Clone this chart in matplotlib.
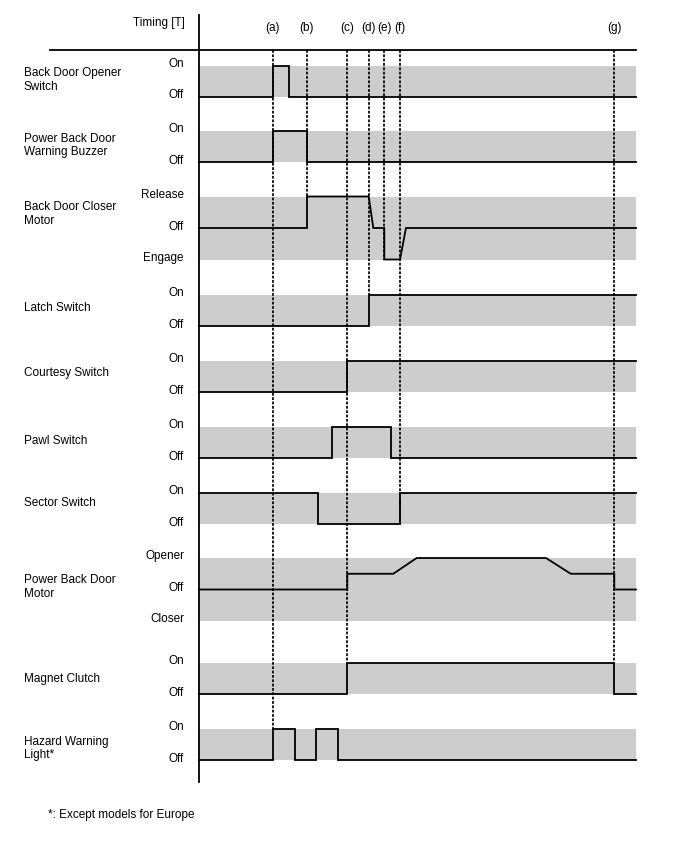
import matplotlib
matplotlib.use("Agg")
import matplotlib.pyplot as plt

plt.rcParams['font.family'] = ['Liberation Sans', 'DejaVu Sans']

# ---------------- data ----------------
event_labels = ['(a)', '(b)', '(c)', '(d)', '(e)', '(f)', '(g)']
event_t = [73.7, 108.0, 148.3, 169.7, 185.3, 201.0, 415.3]
t_end = 437.0

signal_names = [
    'Back Door Opener\nSwitch',
    'Power Back Door\nWarning Buzzer',
    'Back Door Closer\nMotor',
    'Latch Switch',
    'Courtesy Switch',
    'Pawl Switch',
    'Sector Switch',
    'Power Back Door\nMotor',
    'Magnet Clutch',
    'Hazard Warning\nLight*',
]
two_levels = ['Off', 'On']
closer_levels = ['Engage', 'Off', 'Release']
motor_levels = ['Closer', 'Off', 'Opener']

opener_t = [0, 73.7, 73.7, 89.7, 89.7, 437]
opener_v = [0, 0, 1, 1, 0, 0]
buzzer_t = [0, 73.7, 73.7, 108, 108, 437]
buzzer_v = [0, 0, 1, 1, 0, 0]
closer_t = [0, 108, 108, 169.7, 174.3, 185.3, 185.3, 201, 207, 437]
closer_v = [0, 0, 1, 1, 0, 0, -1, -1, 0, 0]
latch_t = [0, 169.7, 169.7, 437]
latch_v = [0, 0, 1, 1]
courtesy_t = [0, 148.3, 148.3, 437]
courtesy_v = [0, 0, 1, 1]
pawl_t = [0, 132.7, 132.7, 191.7, 191.7, 437]
pawl_v = [0, 0, 1, 1, 0, 0]
sector_t = [0, 119, 119, 201, 201, 437]
sector_v = [1, 1, 0, 0, 1, 1]
motor_t = [0, 148.3, 148.3, 194.3, 217.7, 347, 371.7, 415.3, 415.3, 437]
motor_v = [0, 0, 0.5, 0.5, 1, 1, 0.5, 0.5, 0, 0]
clutch_t = [0, 148.3, 148.3, 415.3, 415.3, 437]
clutch_v = [0, 0, 1, 1, 0, 0]
hazard_t = [0, 73.7, 73.7, 95.7, 95.7, 117.3, 117.3, 139, 139, 437]
hazard_v = [0, 0, 1, 1, 0, 0, 1, 1, 0, 0]

footnote = '*: Except models for Europe'

# ---------------- layout ----------------
W, H = 688, 852
X0 = 199  # time origin (pixel column)
row_off_y = [97, 162.3, 228, 326, 392, 458.3, 524.3, 589.5, 694.3, 760.3]
name_y = [80, 145.5, 214, 308, 373, 441, 503, 587, 679, 748.5]
step = 31.5

signals = [
    (opener_t, opener_v, two_levels, [0, 1]),
    (buzzer_t, buzzer_v, two_levels, [0, 1]),
    (closer_t, closer_v, closer_levels, [-1, 0, 1]),
    (latch_t, latch_v, two_levels, [0, 1]),
    (courtesy_t, courtesy_v, two_levels, [0, 1]),
    (pawl_t, pawl_v, two_levels, [0, 1]),
    (sector_t, sector_v, two_levels, [0, 1]),
    (motor_t, motor_v, motor_levels, [-1, 0, 1]),
    (clutch_t, clutch_v, two_levels, [0, 1]),
    (hazard_t, hazard_v, two_levels, [0, 1]),
]
# where each dashed event line stops: (row, level)
dash_stop = [(9, 1), (2, 1), (8, 1), (3, 1), (2, -1), (6, 0), (8, 1)]


def ypos(row, level):
    return row_off_y[row] - level * step


fig = plt.figure(figsize=(W / 100, H / 100), dpi=100)
ax = fig.add_axes([0, 0, 1, 1])
ax.set_xlim(-X0, W - X0)
ax.set_ylim(H, 0)
ax.axis('off')

band_color = '#cdcdcd'
fs = 8.5

for i, (ts, vs, lvl_names, lvls) in enumerate(signals):
    ytop = ypos(i, max(lvls))
    ybot = ypos(i, min(lvls))
    ax.fill_between([0, t_end], ytop, ybot, color=band_color, lw=0, zorder=1)
    ys = [ypos(i, v) for v in vs]
    ax.plot(ts, ys, color='black', lw=1.3, zorder=4, solid_joinstyle='miter')
    for name, lv in zip(lvl_names, lvls):
        off = -1.5
        ax.text(-15, ypos(i, lv) + off, name, ha='right', va='center',
                fontsize=fs, color='black')
    ax.text(-175, name_y[i], signal_names[i], ha='left', va='center',
            fontsize=fs, color='black', linespacing=1.15)

# event dashed lines and labels
for lab, t, (r, lv) in zip(event_labels, event_t, dash_stop):
    ax.plot([t, t], [50, ypos(r, lv)], color='black', lw=1.25,
            linestyle=(0, (1.6, 0.9)), zorder=3)
    ax.text(t, 28, lab, ha='center', va='center', fontsize=fs, color='black')

# axes frame lines
ax.plot([0, 0], [15, 782], color='black', lw=1.3, zorder=5)
ax.plot([50 - X0, t_end], [50, 50], color='black', lw=1.3, zorder=5)
ax.text(-14, 23, 'Timing [T]', ha='right', va='center', fontsize=fs, color='black')

ax.text(48 - X0, 815, footnote, ha='left', va='center', fontsize=fs, color='black')

fig.savefig('out.png', dpi=100)
